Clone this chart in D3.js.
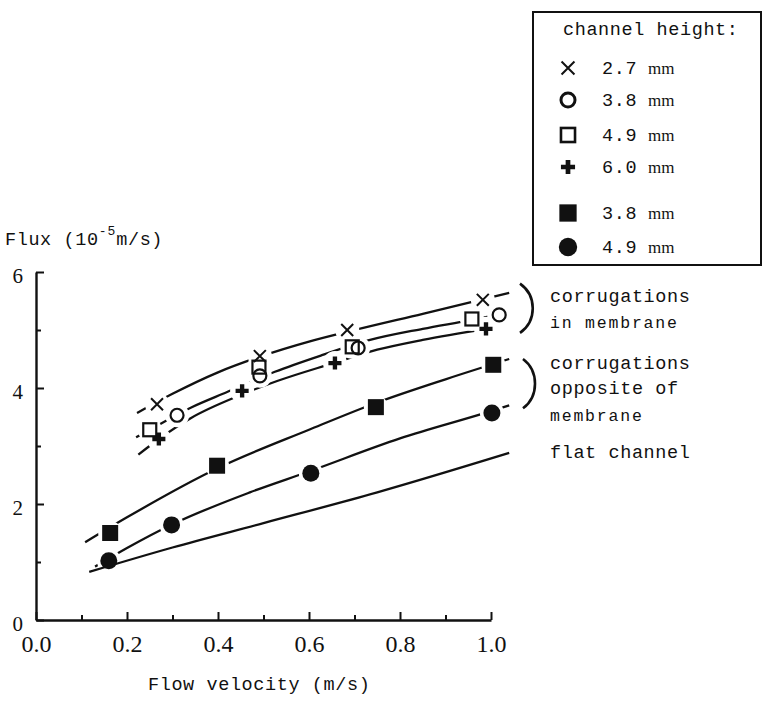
<!DOCTYPE html>
<html>
<head>
<meta charset="utf-8">
<script src="https://cdn.jsdelivr.net/npm/d3@7"></script>
<style>
  body { margin: 0; background: #fff; }
  svg { display: block; }
  .mono { font-family: "Liberation Mono", "DejaVu Sans Mono", monospace; font-size: 18.5px; letter-spacing: 0.6px; fill: #111; }
  .small { font-size: 16.5px; letter-spacing: 1.8px; }
</style>
</head>
<body>
<div id="chart"></div>
<script>
// measured points (flow velocity m/s, flux 1e-5 m/s)
const vel27 = [0.266, 0.492, 0.684, 0.982];
const flux27 = [3.72, 4.55, 5.00, 5.52];
const vel38 = [0.31, 0.492, 0.708, 1.018];
const flux38 = [3.53, 4.21, 4.69, 5.26];
const vel49 = [0.25, 0.49, 0.695, 0.958];
const flux49 = [3.28, 4.36, 4.71, 5.19];
const vel60 = [0.27, 0.453, 0.657, 0.989];
const flux60 = [3.12, 3.95, 4.43, 5.02];
const velOpp38 = [0.163, 0.398, 0.747, 1.005];
const fluxOpp38 = [1.50, 2.66, 3.67, 4.40];
const velOpp49 = [0.16, 0.298, 0.604, 1.002];
const fluxOpp49 = [1.02, 1.64, 2.53, 3.57];

// hand drawn fit curves
const fitVel27 = [0.222, 0.3, 0.4, 0.5, 0.6, 0.7, 0.85, 1.04];
const fitFlux27 = [3.57, 3.90, 4.27, 4.56, 4.80, 5.00, 5.28, 5.64];
const fitVel49 = [0.22, 0.25, 0.34, 0.42, 0.525, 0.63, 0.73, 0.85, 0.955, 1.0];
const fitFlux49 = [3.15, 3.28, 3.66, 3.93, 4.28, 4.57, 4.82, 5.02, 5.17, 5.24];
const fitVel60 = [0.225, 0.27, 0.34, 0.45, 0.53, 0.65, 0.75, 0.85, 0.99];
const fitFlux60 = [2.85, 3.12, 3.48, 3.88, 4.12, 4.42, 4.66, 4.83, 5.02];
const fitVelOpp38 = [0.108, 0.2, 0.4, 0.6, 0.75, 0.9, 1.04];
const fitFluxOpp38 = [1.34, 1.77, 2.62, 3.28, 3.75, 4.15, 4.50];
const fitVelOpp49 = [0.13, 0.2, 0.3, 0.47, 0.6, 0.8, 1.0, 1.04];
const fitFluxOpp49 = [0.92, 1.24, 1.65, 2.20, 2.56, 3.13, 3.60, 3.70];
const flatVel = [0.117, 0.3, 0.5, 0.75, 1.04];
const flatFlux = [0.83, 1.25, 1.67, 2.20, 2.88];

const xMajor = [0, 0.2, 0.4, 0.6, 0.8, 1.0];
const xMinor = [0.1, 0.3, 0.5, 0.7, 0.9];
const yMajor = [0, 2, 4, 6];
const yMinor = [1, 3, 5];

const legendLabels = ['2.7', '3.8', '4.9', '6.0', '3.8', '4.9'];

const W = 763, H = 709;
const svg = d3.select('#chart').append('svg').attr('width', W).attr('height', H);

const x = d3.scaleLinear().domain([0, 1]).range([36, 491]);
const y = d3.scaleLinear().domain([0, 6]).range([620, 272]);

const ink = '#111';

// axes
const xg = svg.append('g').attr('transform', `translate(0,${y(0)})`)
    .call(d3.axisBottom(x).tickValues(xMajor).tickSizeInner(-8).tickSizeOuter(0)
        .tickPadding(15).tickFormat(d3.format('.1f')));
svg.append('g').attr('transform', `translate(0,${y(0)})`)
    .call(d3.axisBottom(x).tickValues(xMinor).tickSize(-5).tickFormat(''))
    .call(g => g.select('.domain').remove());
const yg = svg.append('g').attr('transform', `translate(${x(0)},0)`)
    .call(d3.axisLeft(y).tickValues(yMajor).tickSizeInner(-8).tickSizeOuter(0)
        .tickPadding(13).tickFormat(d3.format('d')));
svg.append('g').attr('transform', `translate(${x(0)},0)`)
    .call(d3.axisLeft(y).tickValues(yMinor).tickSize(-5).tickFormat(''))
    .call(g => g.select('.domain').remove());

svg.selectAll('.domain').attr('stroke', ink).attr('stroke-width', 2.4);
svg.selectAll('.tick line').attr('stroke', ink).attr('stroke-width', 2);
xg.selectAll('text').attr('font-family', '"Liberation Serif", serif').attr('font-size', 24).attr('fill', ink);
yg.selectAll('text').attr('font-family', '"Liberation Serif", serif').attr('font-size', 21).attr('fill', ink)
    .attr('dy', '0.5em');

// curves
const line = d3.line().x(d => x(d[0])).y(d => y(d[1])).curve(d3.curveMonotoneX);
const zipPts = (a, b) => a.map((v, i) => [v, b[i]]);

const fits = [
    zipPts(fitVel27, fitFlux27),
    zipPts(fitVel49, fitFlux49),
    zipPts(fitVel60, fitFlux60),
    zipPts(fitVelOpp38, fitFluxOpp38),
    zipPts(fitVelOpp49, fitFluxOpp49)
];
svg.append('g').selectAll('path').data(fits).join('path')
    .attr('d', line).attr('fill', 'none').attr('stroke', ink).attr('stroke-width', 2.3);

const series = [
    {kind: 'times', pts: zipPts(vel27, flux27)},
    {kind: 'circle', pts: zipPts(vel38, flux38)},
    {kind: 'square', pts: zipPts(vel49, flux49)},
    {kind: 'plus', pts: zipPts(vel60, flux60)},
    {kind: 'fsquare', pts: zipPts(velOpp38, fluxOpp38)},
    {kind: 'fcircle', pts: zipPts(velOpp49, fluxOpp49)}
];

// white gaps where the curves meet the markers
svg.append('g').selectAll('circle')
    .data(series.flatMap(s => s.pts)).join('circle')
    .attr('cx', d => x(d[0])).attr('cy', d => y(d[1])).attr('r', 12).attr('fill', '#fff');

svg.append('path').datum(zipPts(flatVel, flatFlux))
    .attr('d', line).attr('fill', 'none').attr('stroke', ink).attr('stroke-width', 2.3);

function drawMarker(g, kind, big) {
    const k = big ? 1.08 : 1;
    if (kind === 'times') {
        g.append('path').attr('d', d3.symbol(d3.symbolTimes, 95 * k * k)())
            .attr('fill', 'none').attr('stroke', ink).attr('stroke-width', 2);
    } else if (kind === 'circle') {
        g.append('circle').attr('r', 6.5 * k).attr('fill', 'none').attr('stroke', ink).attr('stroke-width', big ? 3 : 2.2);
    } else if (kind === 'square') {
        const s = 13 * k;
        g.append('rect').attr('x', -s / 2).attr('y', -s / 2).attr('width', s).attr('height', s)
            .attr('fill', 'none').attr('stroke', ink).attr('stroke-width', big ? 2.6 : 2.2);
    } else if (kind === 'plus') {
        g.append('path').attr('d', d3.symbol(d3.symbolCross, 95 * k * k)()).attr('fill', ink);
    } else if (kind === 'fsquare') {
        const s = 16 * k;
        g.append('rect').attr('x', -s / 2).attr('y', -s / 2).attr('width', s).attr('height', s).attr('fill', ink);
    } else {
        g.append('circle').attr('r', 8.5 * k).attr('fill', ink);
    }
}

series.forEach(s => {
    svg.append('g').selectAll('g').data(s.pts).join('g')
        .attr('transform', d => `translate(${x(d[0])},${y(d[1])})`)
        .each(function () { drawMarker(d3.select(this), s.kind, false); });
});

// braces
const brace = (y0, y1, x0, bulge) =>
    `M${x0},${y(y0)} C${x0 + bulge},${y(y0) + 12} ${x0 + bulge},${y(y1) - 12} ${x0},${y(y1)}`;
svg.append('path').attr('d', brace(5.8, 4.95, 520, 17)).attr('fill', 'none').attr('stroke', ink).attr('stroke-width', 2.6);
svg.append('path').attr('d', brace(4.5, 3.65, 523, 16)).attr('fill', 'none').attr('stroke', ink).attr('stroke-width', 2.6);

// annotations
const note = (txt, tx, ty, cls) => svg.append('text').attr('class', cls || 'mono').attr('x', tx).attr('y', ty).text(txt);
note('corrugations', 550, 302);
note('in membrane', 550, 328, 'mono small');
note('corrugations', 550, 369);
note('opposite of', 550, 394);
note('membrane', 550, 421, 'mono small');
note('flat channel', 550, 458);

// axis titles
const yt = svg.append('text').attr('class', 'mono').attr('x', 5).attr('y', 245);
yt.append('tspan').text('Flux (10');
yt.append('tspan').attr('dy', -10).attr('font-size', 13).attr('letter-spacing', 1).text('-5');
yt.append('tspan').attr('dy', 10).text('m/s)');
note('Flow velocity (m/s)', 148, 690);

// legend
svg.append('rect').attr('x', 533).attr('y', 12).attr('width', 228).attr('height', 253)
    .attr('fill', '#fff').attr('stroke', ink).attr('stroke-width', 2);
note('channel height:', 563, 35);
const rowY = [68, 100, 135, 167, 213, 247];
series.forEach((s, i) => {
    const g = svg.append('g').attr('transform', `translate(568,${rowY[i]})`);
    drawMarker(g, s.kind, true);
    const t = svg.append('text').attr('class', 'mono').attr('x', 602).attr('y', rowY[i] + 6);
    t.append('tspan').text(legendLabels[i]);
    t.append('tspan').attr('x', 648).attr('font-family', '"Liberation Serif", serif')
        .attr('font-size', 17).attr('letter-spacing', 0).text('mm');
});
</script>
</body>
</html>
